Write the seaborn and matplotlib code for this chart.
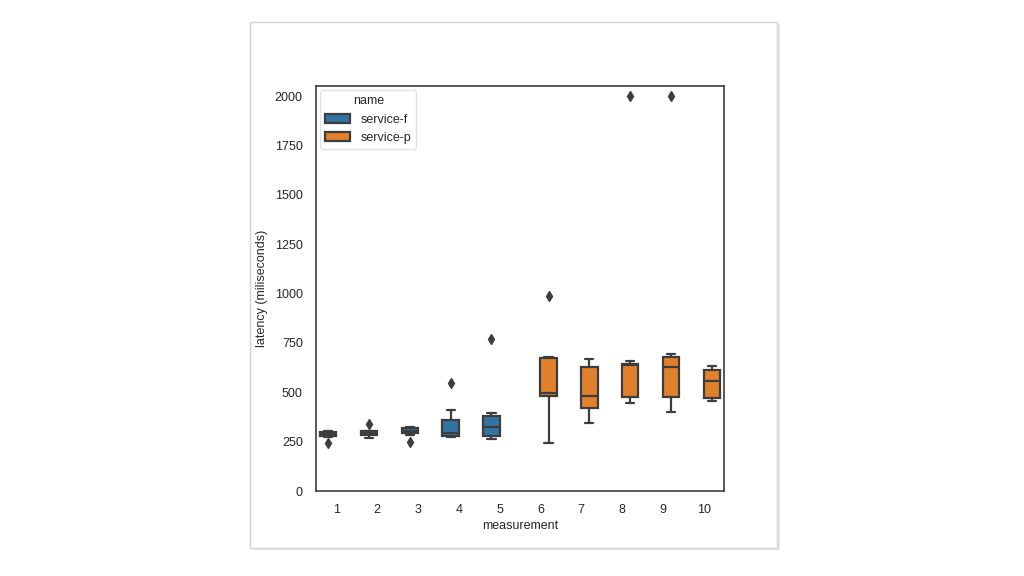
import numpy as np
import pandas as pd
import matplotlib
matplotlib.use("Agg")
import matplotlib.pyplot as plt
from matplotlib.patches import Rectangle
import seaborn as sns

sns.set_style("white")
plt.rcParams['font.family'] = ['Liberation Sans', 'DejaVu Sans']

m1 = [245, 274, 282, 287, 293, 301, 306]
m2 = [271, 280, 286, 294, 300, 306, 342]
m3 = [248, 284, 300, 304, 314, 322, 326]
m4 = [275, 276, 279, 290, 300, 347, 408, 547]
m5 = [265, 275, 279, 318, 332, 378, 394, 771]
m6 = [242, 475, 485, 497, 670, 677, 988]
m7 = [343, 415, 427, 483, 620, 636, 670]
m8 = [448, 468, 480, 635, 641, 641, 657, 2000]
m9 = [401, 470, 480, 620, 636, 675, 692, 2000]
m10 = [455, 468, 478, 556, 605, 617, 633]

samples = [m1, m2, m3, m4, m5, m6, m7, m8, m9, m10]
services = ["service-f"] * 5 + ["service-p"] * 5

rows = []
for i, (vals, svc) in enumerate(zip(samples, services), start=1):
    for v in vals:
        rows.append({"measurement": i, "name": svc, "latency": v})
df = pd.DataFrame(rows)

fs = 9

fig = plt.figure(figsize=(10.24, 5.76), dpi=100)

# card behind the plot, with a light shadow
fig.patches.append(Rectangle((252 / 1024, 1 - 550 / 576), 528 / 1024, 526 / 576,
                             transform=fig.transFigure, facecolor="#e6e6e6",
                             edgecolor="none", zorder=-2))
fig.patches.append(Rectangle((250 / 1024, 1 - 548 / 576), 527 / 1024, 526 / 576,
                             transform=fig.transFigure, facecolor="white",
                             edgecolor="#d4d4d4", linewidth=1.0, zorder=-1))

ax = fig.add_axes([316 / 1024, 1 - 491 / 576, 408 / 1024, 405 / 576])
sns.boxplot(data=df, x="measurement", y="latency", hue="name", dodge=True,
            ax=ax, linecolor="#3d3d3d", linewidth=1.6,
            flierprops=dict(marker="d", markerfacecolor="#3d3d3d",
                            markeredgecolor="#3d3d3d", markersize=5))

ax.set_ylim(0, 2052)
ax.set_yticks([0, 250, 500, 750, 1000, 1250, 1500, 1750, 2000])
ax.set_xlabel("measurement", fontsize=fs, labelpad=2.5)
ax.set_ylabel("latency (miliseconds)", fontsize=fs, labelpad=5)
ax.tick_params(labelsize=fs, pad=6)
for s in ax.spines.values():
    s.set_color("#3d3d3d")
    s.set_linewidth(1.2)

leg = ax.legend(title="name", loc="upper left", fontsize=fs, title_fontsize=fs,
                borderaxespad=0.35)
leg.get_frame().set_edgecolor("#dddddd")

fig.savefig("out.png", dpi=100)
